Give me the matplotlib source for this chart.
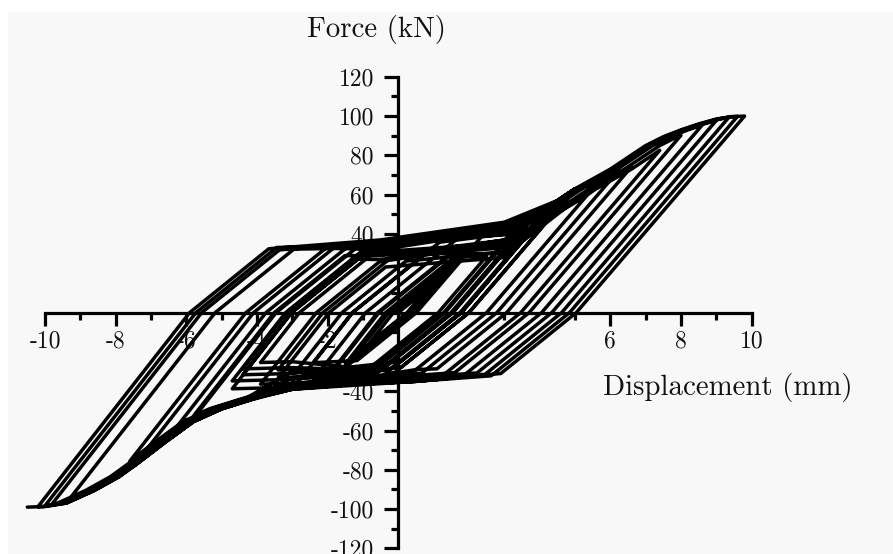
import numpy as np
import matplotlib
matplotlib.use("Agg")
import matplotlib.pyplot as plt
from matplotlib.patches import Rectangle
from matplotlib.ticker import FixedLocator, FixedFormatter

# ---------------- data ----------------
# peak displacements (mm) of each loading cycle, in test order
pos_peak_x = [0.8, 1.2, 1.6, 2.0, 2.0, 2.5, 2.5, 3.0, 3.0, 3.5, 3.5, 4.0, 4.0, 4.5,
              4.5, 5.0, 5.0, 5.5, 6.1, 6.6, 7.4, 8.0, 8.6, 9.0, 9.35, 9.6, 9.8]
neg_peak_x = [-0.8, -1.2, -1.5, -1.9, -1.9, -2.4, -2.4, -2.9, -2.9, -3.4, -3.4, -3.9, -3.9, -4.4,
              -4.4, -4.7, -4.7, -5.8, -5.8, -6.5, -7.5, -7.6, -9.4, -9.8, -10.0, -10.2, -10.5]
# upper branch force levels (kN) of each cycle at x = -4, -0.5 and 3.0 mm
up_left = [24, 27, 22, 29, 25, 31, 26, 23, 30, 28, 25, 33, 27, 30,
           24, 32, 28, 30, 33, 29, 31, 34, 30, 32, 31, 33, 32]
up_mid = [30, 26, 33, 24, 31, 27, 34, 29, 25, 32, 28, 23, 35, 26,
          30, 33, 27, 31, 36, 29, 34, 32, 35, 33, 36, 34, 37]
up_right = [33, 38, 30, 41, 34, 29, 43, 36, 31, 40, 33, 28, 44, 35,
            30, 42, 37, 36, 40, 38, 41, 43, 42, 44, 45, 44, 46]
# lower branch force levels (kN) of each cycle at x = -3.0, 0.5 and 3.5 mm
lo_left = [-27, -31, -24, -33, -28, -35, -26, -30, -37, -29, -33, -25, -36, -31,
           -28, -38, -34, -30, -36, -39, -33, -37, -38, -36, -39, -38, -39]
lo_mid = [-30, -25, -33, -27, -35, -29, -23, -32, -28, -36, -26, -31, -34, -24,
          -30, -33, -27, -35, -31, -29, -34, -32, -35, -33, -34, -35, -35]
lo_right = [-24, -29, -21, -31, -26, -23, -33, -27, -20, -30, -25, -22, -32, -28,
            -24, -30, -26, -29, -31, -27, -30, -28, -30, -29, -30, -31, -30]
# lateral shift (mm) of the hardening envelopes for each cycle (degradation)
env_up_shift = [0, 0, 0, 0, 0, 0, 0, 0, 0, 0, 0, 0, 0, 0,
                0, 0, 0, 0.5, 0.45, 0.5, 0.6, 0.4, 0.2, 0.15, 0.1, 0.05, 0.0]
env_lo_shift = [0, 0, 0, 0, 0, 0, 0, 0, 0, 0, 0, 0, 0, 0,
                0, 0, 0, 0.2, 0.35, 0.1, 0.0, 0.3, 0.0, 0.25, 0.15, 0.05, 0.0]
# hardening envelopes
env_up_x = [4.5, 5.0, 5.5, 6.0, 6.5, 7.0, 7.5, 8.0, 8.5, 9.0, 9.4, 9.8, 12.0]
env_up_y = [57, 63, 68, 73, 79, 85, 89.5, 93, 96, 98.5, 99.7, 100, 100]
env_lo_x = [-12.0, -10.5, -10.0, -9.4, -8.6, -7.9, -7.4, -6.6, -5.8, -5.0, -4.2]
env_lo_y = [-99, -99, -98.7, -97, -90.5, -83.5, -77, -66, -55.5, -49, -44.5]
# stiffness (kN/mm): reloading / unloading, steep part and part after crossing zero
k_reload = [23.0, 14.5]
k_unload = [21.0, 14.5]

x_ticks = [-10, -8, -6, -4, -2, 6, 8, 10]
x_tick_labels = ["-10", "-8", "-6", "-4", "-2", "6", "8", "10"]
y_ticks = [120, 100, 80, 60, 40, -40, -60, -80, -100, -120]
y_tick_labels = ["120", "100", "80", "60", "40", "-40", "-60", "-80", "-100", "-120"]


# ---------------- hysteresis path from the read values ----------------
def first_cross(x0, y0, k, xe, cx, cy, d):
    if xe == x0:
        return None
    lo, hi = min(x0, xe), max(x0, xe)
    bps = sorted([x0, xe] + [p for p in cx if lo < p < hi], reverse=(d < 0))
    def g(x):
        return d * ((y0 + k * (x - x0)) - np.interp(x, cx, cy))
    prev, gp = bps[0], g(bps[0])
    if gp >= 0:
        return prev
    for b in bps[1:]:
        gb = g(b)
        if gb >= 0:
            return prev + gp / (gp - gb) * (b - prev)
        prev, gp = b, gb
    return None


def branch(x, y, xt, ks, cx, cy, d):
    pts = []
    phases = []
    if (d > 0 and y < 0) or (d < 0 and y > 0):
        phases.append((ks[0], x - y / ks[0]))
    phases.append((ks[1], xt))
    for k, xe in phases:
        xe = min(xe, xt) if d > 0 else max(xe, xt)
        xi = first_cross(x, y, k, xe, cx, cy, d)
        if xi is not None:
            pts.append((xi, float(np.interp(xi, cx, cy))))
            inner = [(px, py) for px, py in zip(cx, cy)
                     if (xi < px < xt if d > 0 else xt < px < xi)]
            if d < 0:
                inner = inner[::-1]
            pts += inner
            pts.append((xt, float(np.interp(xt, cx, cy))))
            return pts
        y = y + k * (xe - x)
        x = xe
        pts.append((x, y))
        if x == xt:
            return pts
    return pts


path = [(0.0, 0.0)]
for c in range(len(pos_peak_x)):
    su = env_up_shift[c]
    ux = [-12.0, -4.0, -0.5, 3.0 + su] + [e + su for e in env_up_x]
    uy = [up_left[c], up_left[c], up_mid[c], up_right[c]] + env_up_y
    if neg_peak_x[c] < -5:
        sl = env_lo_shift[c]
        lx = [e - sl for e in env_lo_x] + [-3.0, 0.5, 3.5, 12.0]
        ly = env_lo_y + [lo_left[c], lo_mid[c], lo_right[c], lo_right[c]]
    else:
        lx = [-12.0, -3.0, 0.5, 3.5, 12.0]
        ly = [lo_left[c] - 4, lo_left[c], lo_mid[c], lo_right[c], lo_right[c]]
    x0, y0 = path[-1]
    path += branch(x0, y0, pos_peak_x[c], k_reload, ux, uy, +1)
    x0, y0 = path[-1]
    path += branch(x0, y0, neg_peak_x[c], k_unload, lx, ly, -1)

disp = [p[0] for p in path]
force = [p[1] for p in path]

# ---------------- figure ----------------
plt.rcParams["font.family"] = ["cmr10", "DejaVu Serif"]
plt.rcParams["axes.unicode_minus"] = False

W, H = 893, 554
fig = plt.figure(figsize=(W / 100, H / 100), dpi=100, facecolor="white")
bg = Rectangle((8 / W, 0), 1 - 8 / W, 1 - 12 / H, transform=fig.transFigure,
               facecolor="#f8f8f8", edgecolor="none", zorder=-10)
fig.add_artist(bg)

xlo, xhi = -11.0, 11.0
ylo, yhi = -122.0, 125.0
pxu = 35.33
pyu = 1.965
left = (398.3 + xlo * pxu) / W
width = (xhi - xlo) * pxu / W
top_px = 312.6 - yhi * pyu
height = (yhi - ylo) * pyu / H
bottom = 1 - (top_px / H) - height
ax = fig.add_axes([left, bottom, width, height], zorder=5)
ax.patch.set_visible(False)
ax.set_xlim(xlo, xhi)
ax.set_ylim(ylo, yhi)

ax.plot(disp, force, color="black", lw=2.5, solid_joinstyle="round",
        solid_capstyle="round", zorder=3)

for s in ["top", "right"]:
    ax.spines[s].set_visible(False)
ax.spines["left"].set_position(("data", 0))
ax.spines["bottom"].set_position(("data", 0))
ax.spines["left"].set_bounds(-120, 120)
ax.spines["bottom"].set_bounds(-10, 10)
for s in ["left", "bottom"]:
    ax.spines[s].set_linewidth(2.3)
    ax.spines[s].set_capstyle("projecting")

ax.xaxis.set_major_locator(FixedLocator(x_ticks))
ax.xaxis.set_major_formatter(FixedFormatter(x_tick_labels))
ax.xaxis.set_minor_locator(FixedLocator([-9, -7, -5, -3, -1, 1, 3, 5, 7, 9]))
ax.yaxis.set_major_locator(FixedLocator(y_ticks))
ax.yaxis.set_major_formatter(FixedFormatter(y_tick_labels))
ax.yaxis.set_minor_locator(FixedLocator([-110, -90, -70, -50, -30, -10, 10, 30, 50, 70, 90, 110]))

ax.tick_params(axis="x", which="major", direction="out", length=9.5, width=2.3,
               pad=3.5, labelsize=17)
ax.tick_params(axis="x", which="minor", direction="out", length=5, width=2.3)
ax.tick_params(axis="y", which="major", direction="out", length=10, width=2.3,
               pad=7.5, labelsize=17)
ax.tick_params(axis="y", which="minor", direction="out", length=5, width=2.3)
ax.tick_params(which="both", color="black", labelcolor="#111111")

fig.text(376 / W, 1 - 30 / H, "Force (kN)", fontsize=20.8, ha="center", va="center",
         color="#111111")
fig.text(728 / W, 1 - 388 / H, "Displacement (mm)", fontsize=20.8, ha="center",
         va="center", color="#111111")

fig.savefig("out.png", dpi=100, facecolor="white")
